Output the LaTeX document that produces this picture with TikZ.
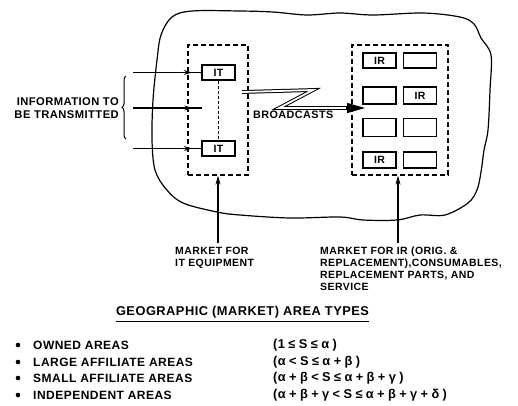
\documentclass[tikz,border=0pt]{standalone}
\usepackage{fontspec}
\setmainfont[LetterSpace=4]{Liberation Sans}
\usetikzlibrary{arrows.meta, positioning, decorations.pathreplacing, decorations.markings}
\newcommand{\fgap}{\hspace{3.4pt}}

\begin{document}
\begin{tikzpicture}[
  x=1pt, y=-1pt,
  area/.style={draw, dashed, dash pattern=on 5pt off 3pt, line width=1.3pt,
               minimum width=60pt, minimum height=130pt, inner sep=0pt},
  unit/.style={draw, line width=1.3pt, minimum width=33pt, minimum height=15pt,
               inner sep=0pt, font=\bfseries\fontsize{10.5}{12}\selectfont},
  label/.style={font=\bfseries\fontsize{10.5}{12}\selectfont, align=left, inner sep=0pt},
  inarr/.style={line width=1.3pt, postaction={decorate},
                decoration={markings, mark=at position 0.86 with {\arrow{Stealth[length=8pt,width=5pt]}}}},
  uparr/.style={-{Stealth[length=9pt,width=5pt]}, line width=1.3pt},
  listtext/.style={anchor=west, inner sep=0pt, font=\bfseries\fontsize{12}{14}\selectfont},
  formula/.style={listtext, font=\bfseries\fontsize{12.8}{14}\selectfont}
]
  \useasboundingbox (0,0) rectangle (518,405);

  % outline of the geographic area
  \draw[line width=1.2pt] plot[smooth cycle, tension=0.55] coordinates {
    (157,60) (161,35) (172,17) (192,11) (240,11) (273,12) (307,15) (340,13)
    (373,15) (423,13) (460,17) (474,24) (481,38) (491,55) (490,90) (488,130)
    (484,150) (481,172) (477,190) (468,203) (445,215) (420,215) (397,220)
    (363,220) (340,217) (290,218) (240,215) (217,212) (183,203) (166,189)
    (155,170) (152,140) (153,100)};

  % IT market
  \node[area] (itarea) at (218,110) {};
  \node[unit] (it1) at (218.5,72.5) {IT};
  \node[unit] (it2) at (218.5,148.5) {IT};
  \draw[dashed, line width=1.2pt, dash pattern=on 3pt off 2pt] (it1) -- (it2);

  % IR market
  \node[area, minimum width=96pt] (irarea) at (400,110) {};
  \node[unit] (ir11) at (379.5,60.5) {IR};
  \node[unit] (ir12) at (420,60.5) {};
  \node[unit, minimum height=17pt] (ir21) at (379.5,95.5) {};
  \node[unit, minimum height=17pt] (ir22) at (420,95.5) {IR};
  \node[unit, minimum height=18pt] (ir31) at (379.5,127.5) {};
  \node[unit, minimum height=18pt] (ir32) at (420,127.5) {};
  \node[unit, minimum height=16pt] (ir41) at (379.5,160) {IR};
  \node[unit, minimum height=16pt] (ir42) at (420,160) {};

  % information inputs
  \coordinate (in1) at (133,72.5);
  \coordinate (in2) at (133,108);
  \coordinate (in3) at (133,148.5);
  \coordinate (inmid) at (202,108);
  \draw[inarr] (in1) -- (it1.west);
  \draw[inarr] (in2) -- (inmid);
  \draw[inarr] (in3) -- (it2.west);
  \draw[decorate, decoration={brace, amplitude=4pt}, line width=1pt]
    (126,139) -- (126,76);
  \node[label, anchor=east, align=right, font=\bfseries\fontsize{11.2}{13}\selectfont] (info) at (119,108)
    {INFORMATION TO\\BE TRANSMITTED};

  % broadcasts
  \coordinate (bc0) at (242,92);
  \coordinate (bc1) at (313,90);
  \coordinate (bc2) at (279,108);
  \coordinate (bc3) at (347,108);
  \coordinate (bc4) at (365,108);
  \draw[double, line width=1pt, double distance=1.8pt, line join=miter] (bc0) -- (bc1) -- (bc2) -- (bc3);
  \draw[-{Triangle[length=18pt,width=10pt]}, line width=1.2pt] ([xshift=-1pt]bc3) -- (bc4);
  \node[label, anchor=north west, font=\bfseries\fontsize{10.8}{12}\selectfont] (bcast) at (253,111) {BROADCASTS};

  % markets
  \coordinate (up1) at (218,243);
  \coordinate (up2) at (398,243);
  \draw[uparr] (up1) -- (up1 |- itarea.south);
  \draw[uparr] (up2) -- (up2 |- irarea.south);
  \node[label, anchor=north west] (itmkt) at (175,247) {MARKET FOR\\IT EQUIPMENT};
  \node[label, anchor=north west] (irmkt) at (320,247)
    {MARKET FOR IR (ORIG. \&\\REPLACEMENT),CONSUMABLES,\\REPLACEMENT PARTS, AND\\SERVICE};

  % area types
  \node[inner sep=0pt, font=\bfseries\fontsize{12.8}{14}\selectfont] (title) at (242.5,312)
    {GEOGRAPHIC (MARKET) AREA TYPES};
  \draw[line width=1.2pt] ([yshift=-3pt]title.south west) -- ([yshift=-3pt]title.south east);

  \node[listtext] (t1) at (33,345) {OWNED AREAS};
  \node[listtext] (t2) at (33,362) {LARGE AFFILIATE AREAS};
  \node[listtext] (t3) at (33,378) {SMALL AFFILIATE AREAS};
  \node[listtext] (t4) at (33,395) {INDEPENDENT AREAS};
  \foreach \i in {1,...,4}
    \fill ([xshift=-15pt]t\i.west) circle (2.3pt);
  \node[formula] (f1) at (273,345) {(1\fgap≤\fgap S\fgap≤\fgap α\fgap)};
  \node[formula] (f2) at (273,362) {(α\fgap<\fgap S\fgap≤\fgap α\fgap+\fgap β\fgap)};
  \node[formula] (f3) at (273,378) {(α\fgap+\fgap β\fgap<\fgap S\fgap≤\fgap α\fgap+\fgap β\fgap+\fgap γ\fgap)};
  \node[formula] (f4) at (273,395) {(α\fgap+\fgap β\fgap+\fgap γ\fgap<\fgap S\fgap≤\fgap α\fgap+\fgap β\fgap+\fgap γ\fgap+\fgap δ\fgap)};
\end{tikzpicture}
\end{document}
